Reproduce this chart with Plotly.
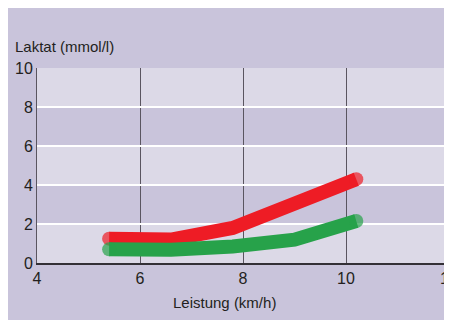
import plotly.graph_objects as go

leistung = [5.4, 6.6, 7.8, 9.0, 10.2]
laktat_rot = [1.25, 1.2, 1.8, 3.0, 4.3]
laktat_gruen = [0.7, 0.68, 0.85, 1.2, 2.15]
x_ticks = [4, 6, 8, 10, 12]
y_ticks = [0, 2, 4, 6, 8, 10]
bands = [(0, 2), (4, 6), (8, 10)]

PURPLE = "#c9c4db"
LIGHT = "#dcd9e7"
TEXT = "#231f20"
FONT = "Liberation Sans Narrow, Arial Narrow, Liberation Sans, sans-serif"

fig = go.Figure()

fig.add_trace(go.Scatter(x=leistung, y=laktat_rot, mode="lines+markers",
                         line=dict(color="#ee1c25", width=14),
                         marker=dict(color="#ee1c25", size=[14, 0, 0, 0, 14], line=dict(width=0)),
                         showlegend=False, hoverinfo="skip", cliponaxis=False))
fig.add_trace(go.Scatter(x=leistung, y=laktat_gruen, mode="lines+markers",
                         line=dict(color="#27a24a", width=14),
                         marker=dict(color="#27a24a", size=[14, 0, 0, 0, 14], line=dict(width=0)),
                         showlegend=False, hoverinfo="skip", cliponaxis=False))

shapes = []
for y0, y1 in bands:
    shapes.append(dict(type="rect", xref="x", yref="y", x0=4, x1=12, y0=y0, y1=y1,
                       fillcolor=LIGHT, line=dict(width=0), layer="below"))

fig.update_layout(
    width=452, height=312,
    margin=dict(l=29, r=11, t=60, b=57),
    paper_bgcolor=PURPLE, plot_bgcolor=PURPLE,
    shapes=shapes,
    font=dict(family=FONT, color=TEXT, size=16),
    xaxis=dict(range=[4, 12], tickvals=x_ticks, showgrid=True, gridcolor="#5a5560",
               gridwidth=1, zeroline=False, showline=True, linecolor="#333036",
               linewidth=2, ticks="", automargin=False, tickfont=dict(size=16, color=TEXT)),
    yaxis=dict(range=[0, 10], tickvals=y_ticks, showgrid=True, gridcolor="white",
               gridwidth=2, zeroline=False, showline=True, linecolor="#5a5560",
               linewidth=1, mirror=True, ticks="", automargin=False,
               tickfont=dict(size=16, color=TEXT)),
    annotations=[
        dict(text="Laktat (mmol/l)", xref="paper", yref="paper", x=-0.058, y=1.11,
             xanchor="left", yanchor="middle", showarrow=False, font=dict(size=15)),
        dict(text="Leistung (km/h)", xref="paper", yref="paper", x=0.456, y=-0.205,
             xanchor="center", yanchor="middle", showarrow=False, font=dict(size=15)),
    ],
)

fig.write_html("out.html")
